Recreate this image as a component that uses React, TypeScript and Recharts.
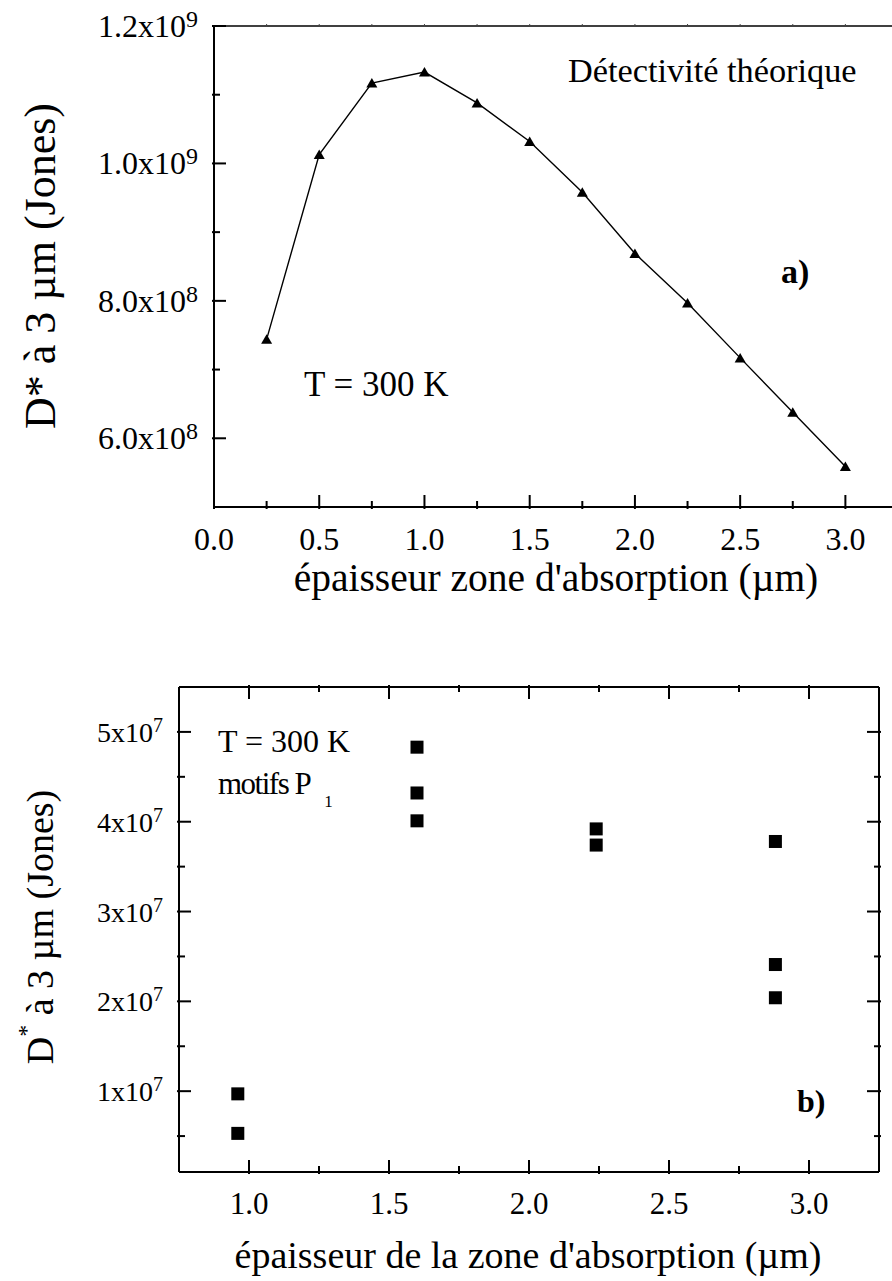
import React from 'react';
import { LineChart, Line, ScatterChart, Scatter, XAxis, YAxis } from 'recharts';

const FONT = "'Liberation Serif', 'Times New Roman', Times, serif";

// ---------- Top chart (a) ----------
const topThickness = [0.25, 0.5, 0.75, 1.0, 1.25, 1.5, 1.75, 2.0, 2.25, 2.5, 2.75, 3.0];
const topDetectivity = [7.44e8, 1.013e9, 1.117e9, 1.133e9, 1.088e9, 1.032e9, 9.58e8, 8.69e8, 7.97e8, 7.17e8, 6.38e8, 5.59e8];

const topXMajorTicks = [0, 0.5, 1, 1.5, 2, 2.5, 3];
const topXTickLabels = ['0.0', '0.5', '1.0', '1.5', '2.0', '2.5', '3.0'];
const topXMinorTicks = [0.25, 0.75, 1.25, 1.75, 2.25, 2.75];
const topFrameTicks = [0.25, 0.5, 0.75, 1, 1.25, 1.5, 1.75, 2, 2.25, 2.5, 2.75, 3];
const topYMajorTicks = [6e8, 8e8, 1e9, 1.2e9];
const topYTickBases = ['6.0x10', '8.0x10', '1.0x10', '1.2x10'];
const topYTickExponents = ['8', '8', '9', '9'];
const topYMinorTicks = [7e8, 9e8, 1.1e9];

// ---------- Bottom chart (b) ----------
const bottomThickness = [0.96, 0.96, 1.6, 1.6, 1.6, 2.24, 2.24, 2.88, 2.88, 2.88];
const bottomDetectivity = [9.7e6, 5.3e6, 4.83e7, 4.32e7, 4.01e7, 3.92e7, 3.74e7, 3.78e7, 2.41e7, 2.04e7];

const bottomXMajorTicks = [1, 1.5, 2, 2.5, 3];
const bottomXTickLabels = ['1.0', '1.5', '2.0', '2.5', '3.0'];
const bottomXMinorTicks = [1.25, 1.75, 2.25, 2.75];
const bottomYMajorTicks = [1e7, 2e7, 3e7, 4e7, 5e7];
const bottomYTickBases = ['1x10', '2x10', '3x10', '4x10', '5x10'];
const bottomYTickExponents = ['7', '7', '7', '7', '7'];
const bottomYMinorTicks = [5e6, 1.5e7, 2.5e7, 3.5e7, 4.5e7];

const topData = topThickness.map((x, i) => ({ x, d: topDetectivity[i] }));
const bottomData = bottomThickness.map((x, i) => ({ x, d: bottomDetectivity[i] }));

const sortNums = (a: number[]) => [...a].sort((p, q) => p - q);
const findIdx = (arr: number[], v: number) =>
  arr.findIndex((a) => Math.abs(a - v) <= Math.abs(a) * 1e-6 + 1e-9);

const txt = { fontFamily: FONT };

const makeBottomXTick = (majors: number[], labels: string[], fontSize: number, dy: number) =>
  (props: any) => {
    const { x, y, payload } = props;
    const i = findIdx(majors, payload.value);
    const major = i >= 0;
    return (
      <g>
        <line x1={x} x2={x} y1={y} y2={y - (major ? 14 : 8)} stroke="#000" strokeWidth={2} />
        {major && (
          <text x={x} y={y + dy} textAnchor="middle" style={txt} fontSize={fontSize} fill="#000">
            {labels[i]}
          </text>
        )}
      </g>
    );
  };

const makeTopXTick = (majors: number[], majorLen: number, minorLen: number, width: number, color: string) =>
  (props: any) => {
    const { x, y, payload } = props;
    const major = findIdx(majors, payload.value) >= 0;
    return <line x1={x} x2={x} y1={y} y2={y + (major ? majorLen : minorLen)} stroke={color} strokeWidth={width} />;
  };

const makeLeftYTick = (
  majors: number[], bases: string[], exps: string[],
  fontSize: number, supSize: number, gap: number, dy: number, supDy: number,
) =>
  (props: any) => {
    const { x, y, payload } = props;
    const i = findIdx(majors, payload.value);
    const major = i >= 0;
    return (
      <g>
        <line x1={x} x2={x + (major ? 14 : 8)} y1={y} y2={y} stroke="#000" strokeWidth={2} />
        {major && (
          <text x={x - gap} y={y + dy} textAnchor="end" style={txt} fontSize={fontSize} fill="#000">
            {bases[i]}
            <tspan dy={supDy} fontSize={supSize}>{exps[i]}</tspan>
          </text>
        )}
      </g>
    );
  };

const makeRightYTick = (majors: number[]) =>
  (props: any) => {
    const { x, y, payload } = props;
    const major = findIdx(majors, payload.value) >= 0;
    return <line x1={x} x2={x - (major ? 14 : 7)} y1={y} y2={y} stroke="#000" strokeWidth={2} />;
  };

const TopXTick = makeBottomXTick(topXMajorTicks, topXTickLabels, 32, 41);
const TopFrameTick = makeTopXTick([], 3, 3, 1, '#444');
const TopYTick = makeLeftYTick(topYMajorTicks, topYTickBases, topYTickExponents, 32, 24, 14, 11, -10);

const BotXTick = makeBottomXTick(bottomXMajorTicks, bottomXTickLabels, 31, 40);
const BotTopXTick = makeTopXTick(bottomXMajorTicks, 14, 7, 2, '#000');
const BotYTick = makeLeftYTick(bottomYMajorTicks, bottomYTickBases, bottomYTickExponents, 28, 20, 14, 10, -10);
const BotRightYTick = makeRightYTick(bottomYMajorTicks);

const Triangle = (props: any) => {
  const { cx, cy } = props;
  if (cx == null || cy == null) return <g />;
  return <polygon points={`${cx - 5.5},${cy + 4.5} ${cx + 5.5},${cy + 4.5} ${cx},${cy - 5}`} fill="#000" />;
};

const Square = (props: any) => {
  const { cx, cy } = props;
  if (cx == null || cy == null) return <g />;
  return <rect x={cx - 6.5} y={cy - 6.5} width={13} height={13} fill="#000" />;
};

const axisStyle = { stroke: '#000', strokeWidth: 2 };

export default function App() {
  return (
    <div style={{ position: 'absolute', left: 0, top: 0, width: 892, height: 1281, overflow: 'hidden', background: '#fff' }}>
      {/* Top chart */}
      <div style={{ position: 'absolute', left: 0, top: 0 }}>
        <LineChart width={900} height={620} data={topData} margin={{ top: 25, right: 2, left: 213, bottom: 112 }}>
          <XAxis
            dataKey="x" type="number" domain={[0, 3.25]} allowDataOverflow
            ticks={sortNums([...topXMajorTicks, ...topXMinorTicks])} interval={0}
            tickSize={0} tickLine={false} height={1} axisLine={axisStyle} tick={TopXTick}
          />
          <XAxis
            xAxisId="top" orientation="top" dataKey="x" type="number" domain={[0, 3.25]} allowDataOverflow
            ticks={topFrameTicks} interval={0}
            tickSize={0} tickLine={false} height={1} axisLine={{ stroke: '#000', strokeWidth: 1.5 }} tick={TopFrameTick}
          />
          <YAxis
            type="number" domain={[5e8, 1.2e9]} allowDataOverflow
            ticks={sortNums([...topYMajorTicks, ...topYMinorTicks])} interval={0}
            tickSize={0} tickLine={false} width={1} axisLine={axisStyle} tick={TopYTick}
          />
          <Line
            dataKey="d" stroke="#000" strokeWidth={1.4} isAnimationActive={false}
            dot={(p: any) => <Triangle key={`t${p.index}`} {...p} />}
            activeDot={false}
          />
        </LineChart>
      </div>

      {/* Bottom chart */}
      <div style={{ position: 'absolute', left: 0, top: 620 }}>
        <ScatterChart width={892} height={661} margin={{ top: 66, right: 12, left: 178, bottom: 108 }}>
          <XAxis
            dataKey="x" type="number" domain={[0.75, 3.25]} allowDataOverflow
            ticks={sortNums([...bottomXMajorTicks, ...bottomXMinorTicks])} interval={0}
            tickSize={0} tickLine={false} height={1} axisLine={axisStyle} tick={BotXTick}
          />
          <XAxis
            xAxisId="top" orientation="top" dataKey="x" type="number" domain={[0.75, 3.25]} allowDataOverflow
            ticks={sortNums([...bottomXMajorTicks, ...bottomXMinorTicks])} interval={0}
            tickSize={0} tickLine={false} height={1} axisLine={axisStyle} tick={BotTopXTick}
          />
          <YAxis
            dataKey="d" type="number" domain={[1e6, 5.5e7]} allowDataOverflow
            ticks={sortNums([...bottomYMajorTicks, ...bottomYMinorTicks])} interval={0}
            tickSize={0} tickLine={false} width={1} axisLine={axisStyle} tick={BotYTick}
          />
          <YAxis
            yAxisId="right" orientation="right" type="number" domain={[1e6, 5.5e7]} allowDataOverflow
            ticks={sortNums([...bottomYMajorTicks, ...bottomYMinorTicks])} interval={0}
            tickSize={0} tickLine={false} width={1} axisLine={axisStyle} tick={BotRightYTick}
          />
          <Scatter data={bottomData} dataKey="d" fill="#000" isAnimationActive={false} shape={(p: any) => <Square {...p} />} />
        </ScatterChart>
      </div>

      {/* Titles and annotations */}
      <svg width={892} height={1281} style={{ position: 'absolute', left: 0, top: 0, pointerEvents: 'none', fontFamily: FONT }}>
        <g fill="#000" style={txt}>
          <text x={40} y={266} fontSize={44} textAnchor="middle" dominantBaseline="central" transform="rotate(-90 40 266)">
            D* à 3 µm (Jones)
          </text>
          <text x={556} y={591} fontSize={39.5} textAnchor="middle">épaisseur zone d'absorption (µm)</text>
          <text x={568} y={82} fontSize={34.3}>Détectivité théorique</text>
          <text x={781} y={283} fontSize={34} fontWeight="bold">a)</text>
          <text x={304} y={396} fontSize={35}>T = 300 K</text>

          <text x={40} y={927} fontSize={38} textAnchor="middle" dominantBaseline="central" transform="rotate(-90 40 927)">
            D<tspan dy={-14} fontSize={24}>*</tspan><tspan dy={14}> à 3 µm (Jones)</tspan>
          </text>
          <text x={528} y={1268} fontSize={38} textAnchor="middle">épaisseur de la zone d'absorption (µm)</text>
          <text x={218} y={752} fontSize={32}>T = 300 K</text>
          <text x={218} y={794} fontSize={31} letterSpacing={-1.5}>
            motifs P<tspan dx={14} dy={13} fontSize={17} letterSpacing={0}>1</tspan>
          </text>
          <text x={797} y={1112} fontSize={32} fontWeight="bold">b)</text>
        </g>
      </svg>
    </div>
  );
}
